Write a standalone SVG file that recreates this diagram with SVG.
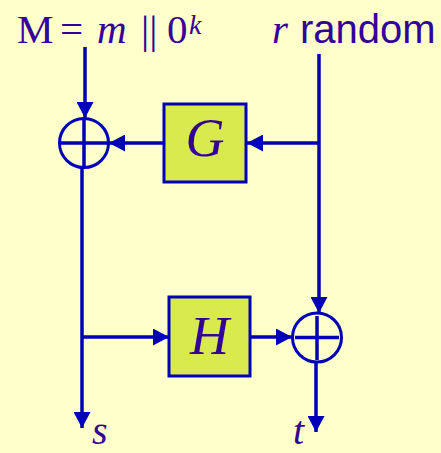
<svg xmlns="http://www.w3.org/2000/svg" width="441" height="453" viewBox="0 0 441 453">
<style>
.ln{stroke:#0000B8;stroke-width:3.5;fill:none}
.circ{stroke:#0000B8;stroke-width:3;fill:none}
.box{fill:#D9EA4F;stroke:#0000B8;stroke-width:3}
.serif{font-family:"Liberation Serif","Times New Roman",serif;fill:#330099}
.sans{font-family:"Liberation Sans",Arial,sans-serif;fill:#330099}
.it{font-style:italic}
</style>
<defs>
<marker id="ah" viewBox="0 0 16 17" refX="16" refY="8.5" markerWidth="16" markerHeight="17" markerUnits="userSpaceOnUse" orient="auto">
<path d="M0,0 L16,8.5 L0,17 z" fill="#0000B8"/>
</marker>
</defs>
<rect width="441" height="453" fill="#FFFFCC"/>
<g id="labels">
<text class="serif" y="43" font-size="41"><tspan x="17">M</tspan><tspan x="60">=</tspan><tspan x="97" class="it">m</tspan><tspan x="141">||</tspan><tspan x="167">0</tspan><tspan x="189" y="34" font-size="28" class="it">k</tspan></text>
<text class="serif it" x="272" y="43" font-size="41">r</text>
<text class="sans" x="300" y="43" font-size="40">random</text>
<text class="serif it" x="92" y="444" font-size="40">s</text>
<text class="serif it" x="293" y="444" font-size="40">t</text>
</g>
<g id="xor1">
<circle class="circ" cx="84" cy="143" r="24.5"/>
<line class="ln" x1="84" y1="120" x2="84" y2="166"/>
<line class="ln" x1="61" y1="143" x2="107" y2="143"/>
</g>
<g id="G">
<rect class="box" x="164" y="104" width="82" height="78"/>
<text class="serif it" x="205" y="156" font-size="54" text-anchor="middle">G</text>
</g>
<g id="H">
<rect class="box" x="169" y="297" width="81" height="79"/>
<text class="serif it" x="209.5" y="354" font-size="54" text-anchor="middle">H</text>
</g>
<g id="xor2">
<circle class="circ" cx="317" cy="337.5" r="24.5"/>
<line class="ln" x1="317" y1="316" x2="317" y2="360"/>
<line class="ln" x1="295" y1="337.5" x2="339" y2="337.5"/>
</g>
<g id="connectors">
<line class="ln" x1="85" y1="47" x2="85" y2="118" marker-end="url(#ah)"/>
<line class="ln" x1="319" y1="54" x2="319" y2="313" marker-end="url(#ah)"/>
<line class="ln" x1="319" y1="143" x2="247" y2="143" marker-end="url(#ah)"/>
<line class="ln" x1="164" y1="143" x2="109" y2="143" marker-end="url(#ah)"/>
<line class="ln" x1="82" y1="168" x2="82" y2="428" marker-end="url(#ah)"/>
<line class="ln" x1="82" y1="337" x2="169" y2="337" marker-end="url(#ah)"/>
<line class="ln" x1="250" y1="337" x2="292" y2="337" marker-end="url(#ah)"/>
<line class="ln" x1="316" y1="362" x2="316" y2="432" marker-end="url(#ah)"/>
</g>
</svg>
